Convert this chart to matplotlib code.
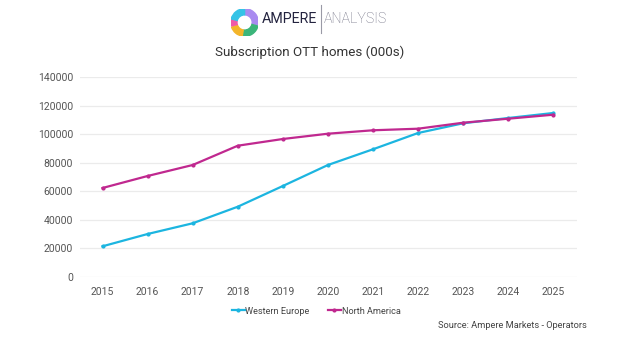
import matplotlib
matplotlib.use("Agg")
import matplotlib.pyplot as plt
from matplotlib.patches import Wedge

plt.rcParams['font.family'] = ['Roboto', 'DejaVu Sans']

years = [2015, 2016, 2017, 2018, 2019, 2020, 2021, 2022, 2023, 2024, 2025]
western_europe = [21500, 30100, 37600, 49200, 63700, 78400, 89400, 100800, 107600, 111300, 114800]
north_america = [62300, 70700, 78400, 91900, 96600, 100300, 102700, 103800, 108000, 110800, 113600]
y_ticks = [0, 20000, 40000, 60000, 80000, 100000, 120000, 140000]

c_eu = '#1cb5e0'
c_na = '#c0288f'

fig = plt.figure(figsize=(6.2, 3.46), dpi=100)
ax = fig.add_axes([0.129, 0.1994, 0.802, 0.5781])

ax.plot(years, western_europe, color=c_eu, lw=1.6, marker='o', ms=2, label='Western Europe', zorder=3)
ax.plot(years, north_america, color=c_na, lw=1.6, marker='o', ms=2, label='North America', zorder=4)

ax.set_xlim(2014.5, 2025.53)
ax.set_ylim(0, 140000)
ax.set_yticks(y_ticks)
ax.set_yticklabels([str(v) for v in y_ticks])
ax.set_xticks(years)
ax.set_xticklabels([str(y) for y in years])
ax.grid(axis='y', color='#ebebeb', lw=0.9)
ax.set_axisbelow(True)
for s in ax.spines.values():
    s.set_visible(False)
ax.tick_params(length=0, labelsize=7.5, colors='#555555')
ax.tick_params(axis='y', pad=5)
ax.tick_params(axis='x', pad=7)

fig.text(0.5, 0.848, 'Subscription OTT homes (000s)', ha='center', va='center',
         fontsize=9.6, color='#333333')

leg = fig.legend(loc='center', bbox_to_anchor=(0.51, 0.101), ncol=2, frameon=False,
                 fontsize=6.6, handlelength=1.4, handletextpad=0.1, columnspacing=2.0,
                 markerscale=1.0)
for t in leg.get_texts():
    t.set_color('#444444')

fig.text(0.946, 0.058, 'Source: Ampere Markets - Operators', ha='right', va='center',
         fontsize=6.7, color='#444444')

# Brand mark: segmented donut plus wordmark
logo = fig.add_axes([0.372, 0.895, 0.045, 0.08])
logo.set_xlim(-1, 1)
logo.set_ylim(-1, 1)
logo.set_aspect('equal')
logo.axis('off')
segments = [(-10, 85, '#a98bf0'), (-95, -15, '#3bb57a'), (-160, -100, '#f3b52a'),
            (-195, -165, '#ef5aa8'), (90, 165, '#35c3e6')]
for a0, a1, col in segments:
    logo.add_patch(Wedge((0, 0), 1.0, a0, a1, width=0.45, color=col))

fig.text(0.422, 0.946, 'AMPERE', ha='left', va='center', fontsize=10.3, color='#23233f')
fig.lines.append(plt.Line2D([0.518, 0.518], [0.905, 0.985], transform=fig.transFigure,
                            color='#9a9aa6', lw=0.8))
fig.text(0.523, 0.946, 'ANALYSIS', ha='left', va='center', fontsize=10.3,
         color='#6d6d80', fontweight='light')

fig.savefig('out.png', dpi=100, facecolor='white')
